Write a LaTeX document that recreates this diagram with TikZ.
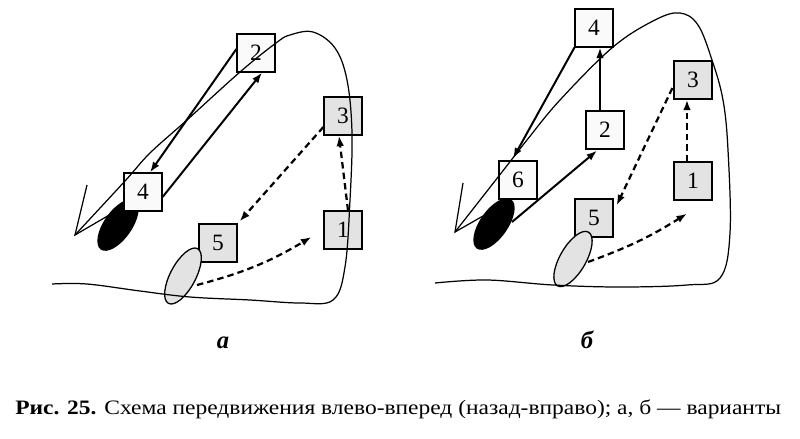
\documentclass[tikz,border=0pt]{standalone}
\usepackage{fontspec}
\setmainfont{Liberation Serif}
\usetikzlibrary{arrows.meta,calc}
\begin{document}
\begin{tikzpicture}[x=0.03cm,y=-0.03cm,
  box/.style={draw,line width=1.6pt,minimum size=1.12cm,inner sep=0pt,font=\fontsize{20}{20}\selectfont},
  wbox/.style={box,fill=gray!4},
  gbox/.style={box,fill=gray!22},
  looppath/.style={line width=1.05pt},
  sarr/.style={line width=1.7pt,-{Latex[length=9pt,width=6.5pt]}},
  darr/.style={line width=1.9pt,dash pattern=on 5.5pt off 3.5pt,-{Latex[length=9pt,width=6.5pt]}},
  foot/.style={fill=black},
  gfoot/.style={draw,line width=1.1pt,fill=gray!22},
  vee/.style={line width=1.05pt},
  lab/.style={font=\fontsize{21}{21}\selectfont\bfseries\itshape},
]
\useasboundingbox (0,0) rectangle (800,438);

% ---------- panel a ----------
\draw[vee] (87,185) -- (75,235) -- (123,207);
\fill[foot,rotate around={55:(118,225)}] (118,225) ellipse [x radius=0.9cm,y radius=0.42cm];
\node[wbox] (a2) at (256,53) {2};
\node[gbox] (a3) at (343,116) {3};
\node[wbox] (a4) at (143,192) {4};
\node[gbox] (a1) at (343,230) {1};
\node[gbox] (a5) at (218,243) {5};
\draw[gfoot,rotate around={62:(183,276)}] (183,276) ellipse [x radius=0.93cm,y radius=0.38cm];
\draw[looppath] plot[smooth,tension=0.6] coordinates {(52,284) (87,284) (140,291) (190,297) (250,300) (300,303) (333,300) (345,267) (350,200) (352,133) (347,80) (335,48) (313,32) (290,35) (276,43) (240,72) (187,120) (150,153) (125,181) (75,235)};
\coordinate (ae) at (197,285);
\draw[sarr] ($(a2.west)+(0,-4)$) -- ($(a4.north)+(7,0)$);
\draw[sarr] ($(a4.east)+(0,5)$) -- ($(a2.south)+(6,0)$);
\draw[darr] ($(a1.north)+(5,0)$) -- ($(a3.south)+(-4,0)$);
\draw[darr] ($(a3.west)+(0,11)$) -- ($(a5.north east)+(2,-2)$);
\draw[darr] (ae) to[bend right=8] ($(a1.west)+(-12,7)$);
\node[lab,anchor=base] (la) at (223,348) {а};

% ---------- panel b ----------
\draw[vee] (463,183) -- (455,232) -- (497,208);
\fill[foot,rotate around={55:(494,224)}] (494,224) ellipse [x radius=0.9cm,y radius=0.42cm];
\node[wbox] (b4) at (594,28) {4};
\node[gbox] (b3) at (693,80) {3};
\node[wbox] (b2) at (605,130) {2};
\node[wbox] (b6) at (518,180) {6};
\node[gbox] (b1) at (693,181) {1};
\node[gbox] (b5) at (594,218) {5};
\draw[gfoot,rotate around={60:(573,259)}] (573,259) ellipse [x radius=0.93cm,y radius=0.39cm];
\draw[looppath] plot[smooth,tension=0.6] coordinates {(435,283) (487,280) (553,285) (620,287) (687,285) (720,278) (730,233) (728,150) (723,100) (712,60) (698,25) (680,13) (655,20) (613,47) (560,100) (527,140) (502,172) (455,232)};
\coordinate (bs) at (512,222);
\coordinate (be) at (588,262);
\draw[sarr] ($(b2.north)+(-5,0)$) -- ($(b4.south)+(6,0)$);
\draw[sarr] (b4.south west) -- ($(b6.north)+(-5,-2)$);
\draw[sarr] (bs) -- ($(b2.south)+(-8,1)$);
\draw[darr] ($(b1.north)+(-6,0)$) -- ($(b3.south)+(-6,0)$);
\draw[darr] ($(b3.west)+(-1,8)$) -- ($(b5.north east)+(3,7)$);
\draw[darr] (be) to[bend right=6] ($(b1.south)+(-6,13)$);
\node[lab,anchor=base] (lb) at (587,348) {б};

% ---------- caption ----------
\node[anchor=base west,inner sep=0pt,xscale=1.145,font=\fontsize{17.5}{17.5}\selectfont] (cap) at (15,414)
  {\textbf{Рис. 25.} Схема передвижения влево-вперед (назад-вправо); а, б — варианты};
\end{tikzpicture}
\end{document}
